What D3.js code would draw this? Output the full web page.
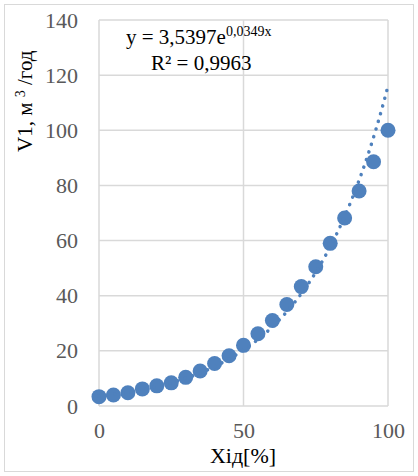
<!DOCTYPE html>
<html><head><meta charset="utf-8">
<script src="https://cdn.jsdelivr.net/npm/d3@7"></script>
<style>body{margin:0;background:#fff}</style>
</head><body>
<script>
const xValues = [0,5,10,15,20,25,30,35,40,45,50,55,60,65,70,75,80,85,90,95,100];
const yValues = [3.4,4.0,4.8,6.2,7.3,8.4,10.4,12.7,15.4,18.2,22.0,26.2,31.0,36.8,43.3,50.5,59.0,68.2,78.0,88.6,100];
const xTicks = [0,50,100];
const yTicks = [0,20,40,60,80,100,120,140];
const trendA = 3.5397, trendB = 0.0349;
const trendX = d3.range(0, 100.01, 1);

const W = 418, H = 476;
const svg = d3.select("body").append("svg").attr("width", W).attr("height", H);
svg.append("rect").attr("x",4.5).attr("y",4.5).attr("width",W-9).attr("height",H-9)
  .attr("fill","#fff").attr("stroke","#d9d9d9").attr("stroke-width",1);

const x = d3.scaleLinear().domain([0,100]).range([99,388]);
const y = d3.scaleLinear().domain([0,140]).range([406,20]);

const grid = svg.append("g");
grid.selectAll(".gy").data(yTicks).join("line")
  .attr("x1",x(0)).attr("x2",x(100)).attr("y1",d=>y(d)).attr("y2",d=>y(d))
  .attr("stroke","#d9d9d9").attr("stroke-width",1.5);
grid.selectAll(".gx").data(xTicks).join("line")
  .attr("y1",y(0)).attr("y2",y(140)).attr("x1",d=>x(d)).attr("x2",d=>x(d))
  .attr("stroke","#d9d9d9").attr("stroke-width",1.5);

const font = "'Liberation Serif','Times New Roman',serif";
const yAxis = svg.append("g").attr("transform",`translate(${x(0)},0)`)
  .call(d3.axisLeft(y).tickValues(yTicks).tickSize(0).tickPadding(21));
yAxis.select(".domain").remove();
yAxis.selectAll("text").attr("font-family",font).attr("font-size",22).attr("fill","#595959");

const xAxis = svg.append("g").attr("transform",`translate(0,${y(0)})`)
  .call(d3.axisBottom(x).tickValues(xTicks).tickSize(0).tickPadding(16));
xAxis.select(".domain").remove();
xAxis.selectAll("text").attr("font-family",font).attr("font-size",22).attr("fill","#595959");

svg.append("text").attr("x",243).attr("y",463).attr("text-anchor","middle")
  .attr("font-family",font).attr("font-size",22).attr("fill","#000").text("Хід[%]");

const yt = svg.append("text").attr("transform","translate(32,152) rotate(-90)")
  .attr("font-family",font).attr("font-size",21).attr("fill","#000");
yt.append("tspan").text("V1, м ");
yt.append("tspan").attr("font-size",14).attr("dy",-7).text("3");
yt.append("tspan").attr("dy",7).text(" /год");

const pts = xValues.map((v,i)=>[v,yValues[i]]);
svg.append("g").selectAll("circle").data(pts).join("circle")
  .attr("cx",d=>x(d[0])).attr("cy",d=>y(d[1])).attr("r",7.5).attr("fill","#4f81bd");

const line = d3.line().x(d=>x(d)).y(d=>y(trendA*Math.exp(trendB*d)));
svg.append("path").datum(trendX).attr("d",line).attr("fill","none")
  .attr("stroke","#4f81bd").attr("stroke-width",3.5).attr("stroke-linecap","round")
  .attr("stroke-dasharray","0.1 7.9");

const eq = svg.append("text").attr("x",126).attr("y",44)
  .attr("font-family",font).attr("font-size",21).attr("fill","#000");
eq.append("tspan").text("y = 3,5397e");
eq.append("tspan").attr("font-size",14).attr("dy",-8).text("0,0349x");
svg.append("text").attr("x",151).attr("y",70)
  .attr("font-family",font).attr("font-size",21).attr("fill","#000").text("R² = 0,9963");
</script>
</body></html>
